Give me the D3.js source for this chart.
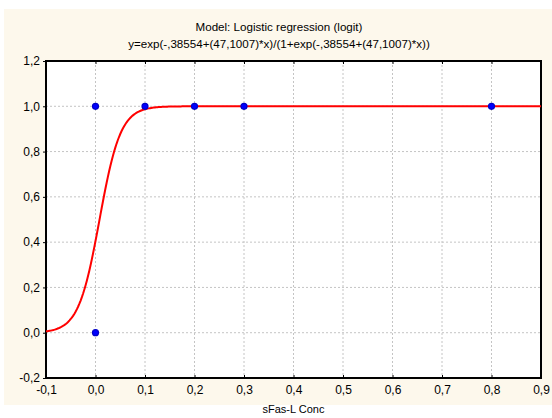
<!DOCTYPE html>
<html>
<head>
<meta charset="utf-8">
<script src="https://cdn.jsdelivr.net/npm/d3@7"></script>
<style>
  body { margin: 0; background: #fff; }
  text { font-family: "Liberation Sans", Arial, sans-serif; font-size: 11px; fill: #000; }
</style>
</head>
<body>
<div id="chart"></div>
<script>
// observed data
const xObs = [0, 0, 0.1, 0.2, 0.3, 0.8];
const yObs = [0, 1, 1, 1, 1, 1];

// fitted model coefficients (from the title)
const coef = [-0.38554, 47.1007];

const xTicks = [-0.1, 0, 0.1, 0.2, 0.3, 0.4, 0.5, 0.6, 0.7, 0.8, 0.9];
const yTicks = [-0.2, 0, 0.2, 0.4, 0.6, 0.8, 1.0, 1.2];
const titleLines = ['Model: Logistic regression (logit)',
  'y=exp(-,38554+(47,1007)*x)/(1+exp(-,38554+(47,1007)*x))'];
const xLabel = 'sFas-L Conc';

let W = 552, H = 418;
let margin = { top: 61, right: 11, bottom: 40, left: 46 };
let width = W - margin.left - margin.right;
let height = H - margin.top - margin.bottom;

let svg = d3.select('#chart').append('svg')
  .attr('width', W).attr('height', H);

// cream panel
svg.append('rect')
  .attr('x', 4).attr('y', 9).attr('width', W - 4).attr('height', 396)
  .attr('fill', '#fdf8ec');

let x = d3.scaleLinear().domain([-0.1, 0.9]).range([0, width]);
let y = d3.scaleLinear().domain([-0.2, 1.2]).range([height, 0]);

const fmt = d => d3.format('.1f')(d).replace('.', ',').replace('−', '-');

let g = svg.append('g').attr('transform', `translate(${margin.left},${margin.top})`);

g.append('rect').attr('width', width).attr('height', height).attr('fill', '#fff');

// grid
g.selectAll('.vgrid').data(xTicks.slice(1, -1)).enter().append('line')
  .attr('x1', d => x(d)).attr('x2', d => x(d))
  .attr('y1', 0).attr('y2', height)
  .attr('stroke', '#c4c4c4').attr('stroke-dasharray', '2,2');
g.selectAll('.hgrid').data(yTicks.slice(1, -1)).enter().append('line')
  .attr('y1', d => y(d)).attr('y2', d => y(d))
  .attr('x1', 0).attr('x2', width)
  .attr('stroke', '#c4c4c4').attr('stroke-dasharray', '2,2');

// axes
g.append('g').attr('transform', `translate(0,${height})`)
  .call(d3.axisBottom(x).tickValues(xTicks).tickFormat(fmt).tickSize(-3).tickPadding(7))
  .call(a => a.select('.domain').remove());
g.append('g')
  .call(d3.axisTop(x).tickValues(xTicks).tickFormat('').tickSize(-3))
  .call(a => a.select('.domain').remove());
g.append('g')
  .call(d3.axisLeft(y).tickValues(yTicks).tickFormat(fmt).tickSize(3).tickPadding(3))
  .call(a => a.select('.domain').remove());
g.selectAll('.tick line').attr('stroke', '#000');
g.selectAll('.tick text').style('font-family', '"Liberation Sans", Arial, sans-serif').style('font-size', '12px');

// frame
g.append('rect').attr('width', width).attr('height', height)
  .attr('fill', 'none').attr('stroke', '#000').attr('stroke-width', 2);

// fitted curve
const model = v => Math.exp(coef[0] + coef[1] * v) / (1 + Math.exp(coef[0] + coef[1] * v));
let xs = d3.range(0, 401).map(i => -0.1 + i * 0.0025);
g.append('path').datum(xs)
  .attr('fill', 'none').attr('stroke', '#f00').attr('stroke-width', 2)
  .attr('d', d3.line().x(d => x(d)).y(d => y(model(d))));

// points
g.selectAll('circle').data(xObs).enter().append('circle')
  .attr('cx', d => x(d)).attr('cy', (d, i) => y(yObs[i]))
  .attr('r', 3).attr('fill', '#0000ff').attr('stroke', '#0000c8').attr('stroke-width', 1.2);

// titles
svg.selectAll('.title').data(titleLines).enter().append('text')
  .attr('x', 279).attr('y', (d, i) => 31 + i * 17)
  .attr('text-anchor', 'middle').style('font-size', '11.6px').text(d => d);

svg.append('text').attr('x', margin.left + width / 2).attr('y', 413)
  .attr('text-anchor', 'middle').text(xLabel);
</script>
</body>
</html>
